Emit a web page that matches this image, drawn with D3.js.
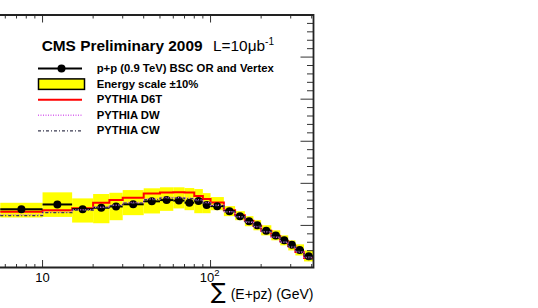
<!DOCTYPE html>
<html>
<head>
<meta charset="utf-8">
<script src="https://cdn.jsdelivr.net/npm/d3@7"></script>
<style>
body { margin: 0; background: #fff; }
svg { display: block; font-family: "Liberation Sans", Arial, sans-serif; }
</style>
</head>
<body>
<div id="svg"></div>
<script>
// bins of sum(E+pz) in GeV (log axis)
const binEdges = [5.6, 10, 15, 20, 25, 30, 40, 50, 60, 70, 80, 90, 100, 120, 140, 160, 180, 200, 230, 260, 290, 320, 360, 410];

// data p+p 0.9 TeV
const dataVals = [0.00693, 0.00749, 0.00693, 0.00710, 0.00725, 0.00751, 0.00786, 0.00801, 0.00795, 0.00770, 0.00791, 0.00743,
    0.00729, 0.00669, 0.00610, 0.00550, 0.00502, 0.00436, 0.00379, 0.00323, 0.00269, 0.00209, 0.00134];

// energy scale +-10% band
const bandHigh = [0.00769, 0.00893, 0.00821, 0.00873, 0.00888, 0.00920, 0.00941, 0.00953, 0.00953, 0.00944, 0.00932, 0.00884,
    0.00837, 0.00729, 0.00669, 0.00610, 0.00562, 0.00502, 0.00442, 0.00382, 0.00323, 0.00275, 0.00203];
const bandLow = [0.00594, 0.00601, 0.00534, 0.00526, 0.00562, 0.00622, 0.00642, 0.00673, 0.00702, 0.00681, 0.00645, 0.00645,
    0.00681, 0.00610, 0.00562, 0.00490, 0.00442, 0.00382, 0.00323, 0.00263, 0.00203, 0.00143, 0.00072];

// MC tunes
const pythiaD6T = [0.00661, 0.00681, 0.00705, 0.00769, 0.00801, 0.00828, 0.00878, 0.00890, 0.00893, 0.00890, 0.00849, 0.00813,
    0.00771, 0.00681, 0.00622, 0.00556, 0.00496, 0.00436, 0.00371, 0.00311, 0.00251, 0.00185, 0.00114];
const pythiaDW = [0.00627, 0.00657, 0.00687, 0.00717, 0.00741, 0.00771, 0.00813, 0.00831, 0.00831, 0.00825, 0.00801, 0.00771,
    0.00741, 0.00663, 0.00604, 0.00538, 0.00484, 0.00424, 0.00359, 0.00299, 0.00245, 0.00185, 0.00120];
const pythiaCW = [0.00616, 0.00651, 0.00681, 0.00711, 0.00735, 0.00765, 0.00807, 0.00825, 0.00825, 0.00819, 0.00795, 0.00765,
    0.00735, 0.00663, 0.00604, 0.00544, 0.00490, 0.00430, 0.00365, 0.00305, 0.00251, 0.00191, 0.00125];

const xMajor = [10, 100];
const xMinor = [4, 5, 6, 7, 8, 9, 20, 30, 40, 50, 60, 70, 80, 90, 200, 300, 400];
const legendLabels = ["p+p (0.9 TeV) BSC OR and Vertex", "Energy scale \u00b110%", "PYTHIA D6T", "PYTHIA DW", "PYTHIA CW"];

const width = 538;
const height = 308;
const frame = { top: 15, right: 313.5, bottom: 267.5 };
const decade = 168; // px per decade on x
const xMin = 3, xMax = 410;
const frameLeft = frame.right - decade * Math.log10(xMax / xMin);

const svg = d3.select("#svg").append("svg")
    .attr("width", width)
    .attr("height", height);

const x = d3.scaleLog().domain([xMin, xMax]).range([frameLeft, frame.right]);
const y = d3.scaleLinear().domain([0, 0.030]).range([frame.bottom, frame.top]);

const bins = dataVals.map((v, i) => ({
    lo: binEdges[i], hi: binEdges[i + 1], c: Math.sqrt(binEdges[i] * binEdges[i + 1]),
    v: v, bLo: bandLow[i], bHi: bandHigh[i]
}));

// yellow band
svg.append("g").selectAll("rect").data(bins).join("rect")
    .attr("x", d => x(d.lo))
    .attr("width", d => x(d.hi) - x(d.lo))
    .attr("y", d => y(d.bHi))
    .attr("height", d => y(d.bLo) - y(d.bHi))
    .attr("fill", "#ffff00");

// step histograms
const stepLine = d3.line().x(d => x(d[0])).y(d => y(d[1])).curve(d3.curveStepAfter);
const stepPoints = (vals) => {
    const pts = vals.map((v, i) => [binEdges[i], v]);
    pts.push([binEdges[binEdges.length - 1], vals[vals.length - 1]]);
    return pts;
};

svg.append("path").datum(stepPoints(pythiaD6T))
    .attr("d", stepLine).attr("fill", "none")
    .attr("stroke", "#ff0000").attr("stroke-width", 2);

// data points
const pts = svg.append("g");
pts.selectAll("line").data(bins).join("line")
    .attr("x1", d => x(d.lo)).attr("x2", d => x(d.hi))
    .attr("y1", d => y(d.v)).attr("y2", d => y(d.v))
    .attr("stroke", "#000").attr("stroke-width", 2);
pts.selectAll("circle").data(bins).join("circle")
    .attr("cx", d => x(d.c)).attr("cy", d => y(d.v)).attr("r", 4)
    .attr("fill", "#000");

svg.append("path").datum(stepPoints(pythiaDW))
    .attr("d", stepLine).attr("fill", "none")
    .attr("stroke", "#d966f0").attr("stroke-width", 1.5).attr("stroke-dasharray", "1,1.5");
svg.append("path").datum(stepPoints(pythiaCW))
    .attr("d", stepLine).attr("fill", "none")
    .attr("stroke", "#3a3a50").attr("stroke-width", 1.3).attr("stroke-dasharray", "3,2,1,2");

// frame + ticks
const axis = svg.append("g").attr("stroke", "#333").attr("stroke-width", 1);
xMinor.concat(xMajor).forEach(t => {
    const len = xMajor.includes(t) ? 7.5 : 3.5;
    axis.append("line").attr("x1", x(t)).attr("x2", x(t)).attr("y1", frame.bottom).attr("y2", frame.bottom - len);
    axis.append("line").attr("x1", x(t)).attr("x2", x(t)).attr("y1", frame.top).attr("y2", frame.top + len);
});
d3.range(0, 31).forEach(k => {
    const len = k % 5 === 0 ? 13 : 6.5;
    axis.append("line").attr("x1", frame.right).attr("x2", frame.right - len)
        .attr("y1", y(k * 0.001)).attr("y2", y(k * 0.001));
});
svg.append("path")
    .attr("d", `M${frameLeft},${frame.top}H${frame.right}V${frame.bottom}H${frameLeft}`)
    .attr("fill", "none").attr("stroke", "#222").attr("stroke-width", 1.8);

// tick labels
svg.append("text").attr("x", x(10)).attr("y", 282).attr("text-anchor", "middle")
    .attr("font-size", 13).text("10");
const l2 = svg.append("text").attr("x", x(100) - 1).attr("y", 282).attr("text-anchor", "middle")
    .attr("font-size", 13);
l2.append("tspan").text("10");
l2.append("tspan").attr("dy", -6).attr("font-size", 9.5).text("2");

// axis title
svg.append("text").attr("x", frame.right).attr("y", 298.5).attr("text-anchor", "end")
    .attr("font-size", 14).text("(E+pz) (GeV)");
svg.append("text").attr("x", 211).attr("y", 299).attr("font-size", 22)
    .attr("font-family", "DejaVu Sans").text("\u2211");

// header
const title = svg.append("text").attr("x", 41.7).attr("y", 50.5).attr("font-size", 15.4);
title.append("tspan").attr("font-weight", "bold").text("CMS Preliminary 2009");
title.append("tspan").attr("x", 213).text("L=10\u03bcb");
title.append("tspan").attr("dy", -6).attr("font-size", 10).text("-1");

// legend
const legBase = [72, 87.6, 103.2, 118.8, 134.4];
const leg = svg.append("g");
legendLabels.forEach((lab, i) => {
    leg.append("text").attr("x", 96.7).attr("y", legBase[i]).attr("font-size", 11.3)
        .attr("font-weight", "bold").text(lab);
});
const cy = legBase.map(b => b - 3.5);
leg.append("line").attr("x1", 38).attr("x2", 82).attr("y1", cy[0]).attr("y2", cy[0])
    .attr("stroke", "#000").attr("stroke-width", 2);
leg.append("circle").attr("cx", 61.5).attr("cy", cy[0]).attr("r", 4).attr("fill", "#000");
leg.append("rect").attr("x", 38.5).attr("y", cy[1] - 5.2).attr("width", 46).attr("height", 10.5)
    .attr("fill", "#ffff00").attr("stroke", "#000").attr("stroke-width", 1.5);
leg.append("line").attr("x1", 38).attr("x2", 82).attr("y1", cy[2]).attr("y2", cy[2])
    .attr("stroke", "#ff0000").attr("stroke-width", 2);
leg.append("line").attr("x1", 38).attr("x2", 82).attr("y1", cy[3]).attr("y2", cy[3])
    .attr("stroke", "#d966f0").attr("stroke-width", 1.5).attr("stroke-dasharray", "1,1.5");
leg.append("line").attr("x1", 38).attr("x2", 82).attr("y1", cy[4]).attr("y2", cy[4])
    .attr("stroke", "#3a3a50").attr("stroke-width", 1.3).attr("stroke-dasharray", "3,2,1,2");
</script>
</body>
</html>
